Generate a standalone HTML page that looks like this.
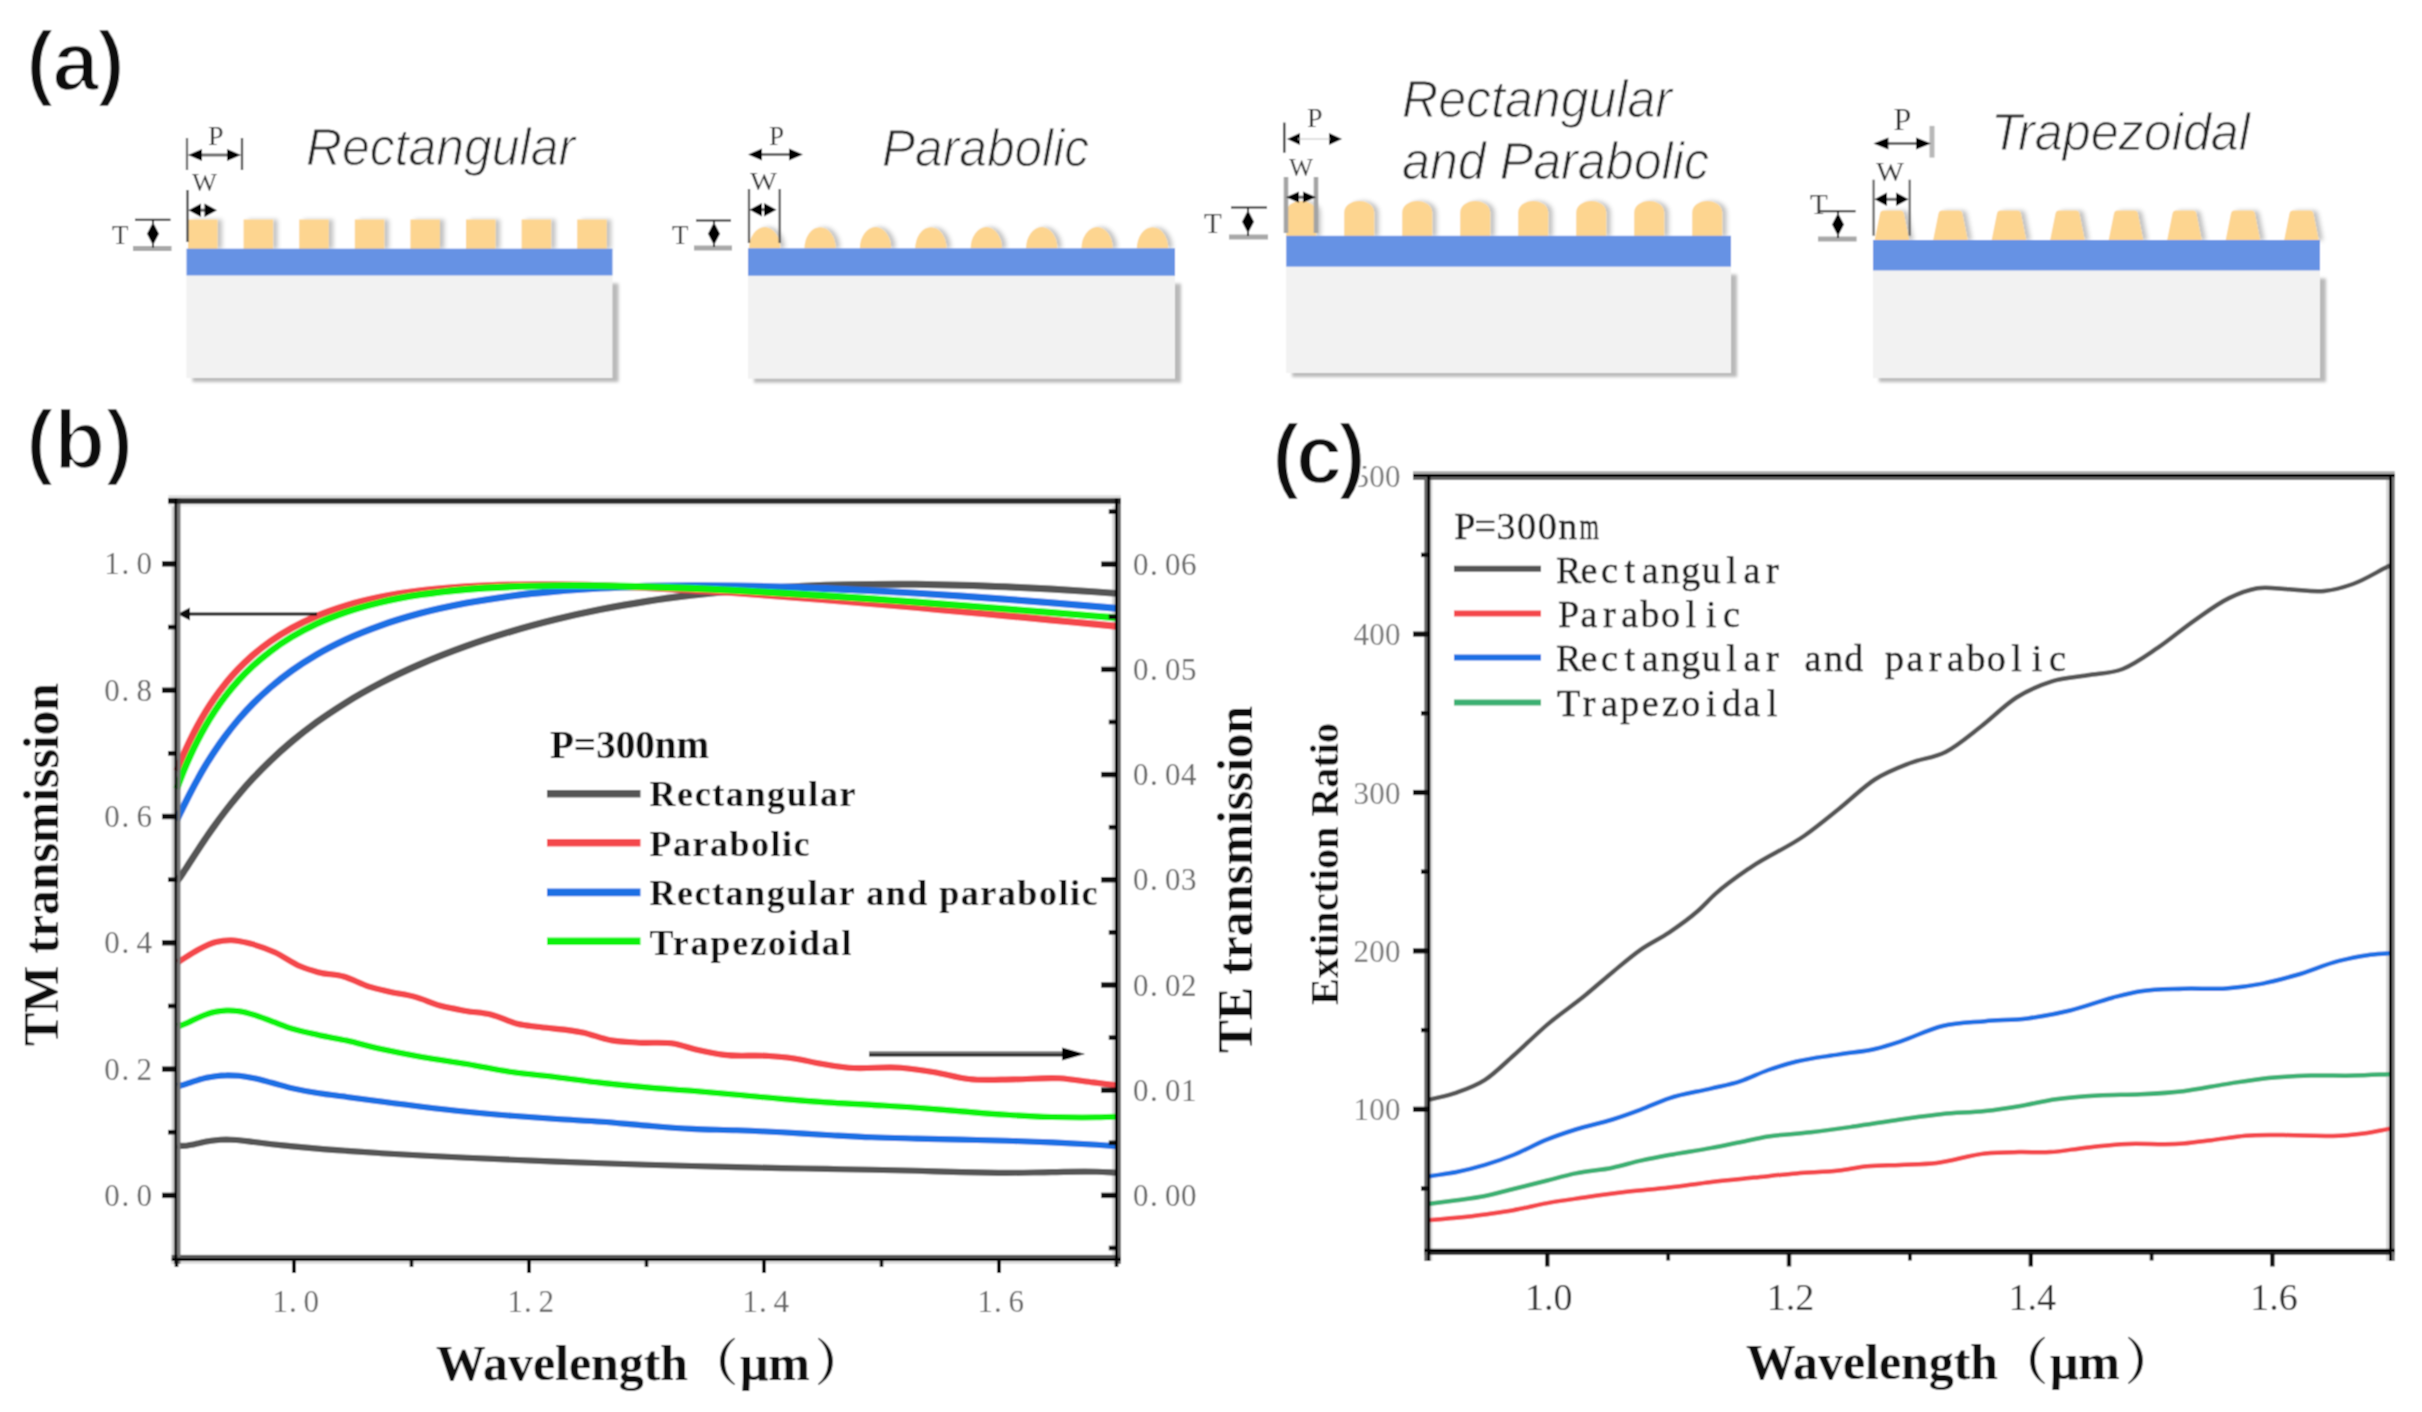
<!DOCTYPE html>
<html lang="en"><head><meta charset="utf-8"><title>Figure</title>
<style>
html,body{margin:0;padding:0;background:#fff;}
body{width:2422px;height:1412px;overflow:hidden;}
svg{display:block;}
.lab{font-family:"Liberation Sans","DejaVu Sans",sans-serif;font-weight:bold;font-size:84px;fill:#0a0a0a;stroke:#fff;stroke-width:2.4px;}
.ttl{font-family:"Liberation Sans","DejaVu Sans",sans-serif;font-style:italic;font-size:51px;fill:#262626;stroke:#fff;stroke-width:0.9px;}
.ann{font-family:"Liberation Serif","DejaVu Serif",serif;fill:#333;}
.tk{font-family:"Liberation Serif","DejaVu Serif",serif;font-size:31px;fill:#666;}
.tkc{font-family:"Liberation Serif","DejaVu Serif",serif;font-size:31px;fill:#777;}
.tkx{font-family:"Liberation Serif","DejaVu Serif",serif;font-size:38px;fill:#333;}
.axb{font-family:"Liberation Serif","Noto Serif CJK SC",serif;font-weight:bold;fill:#111;}
.lgb{font-family:"Liberation Serif","DejaVu Serif",serif;font-weight:bold;font-size:36px;fill:#111;}
.lgc{font-family:"Liberation Serif","DejaVu Serif",serif;font-size:38px;fill:#1c1c1c;stroke:#1c1c1c;stroke-width:0.45px;}
</style></head><body>
<svg width="2422" height="1412" viewBox="0 0 2422 1412">
<defs>
<filter id="sh" x="-20%" y="-20%" width="150%" height="150%"><feDropShadow dx="4.5" dy="0" stdDeviation="2.3" flood-color="#000" flood-opacity="0.24"/></filter>
<filter id="soft" x="-5%" y="-10%" width="110%" height="120%"><feGaussianBlur stdDeviation="1.6"/></filter>
</defs>
<filter id="gb" x="0" y="0" width="2422" height="1412" filterUnits="userSpaceOnUse"><feConvolveMatrix order="3" kernelMatrix="0.0571 0.1248 0.0571 0.1248 0.2725 0.1248 0.0571 0.1248 0.0571" edgeMode="duplicate" preserveAlpha="true"/></filter>
<rect width="2422" height="1412" fill="#fff"/>
<g filter="url(#gb)">
<rect width="2422" height="1412" fill="#fff"/>

<g filter="url(#soft)">
<rect x="192.5" y="283.4" width="426.0" height="98.6" fill="#b9b9b9"/>
</g>
<rect x="186.5" y="274.9" width="426.0" height="103.1" fill="#f2f2f2"/>
<g fill="#fdd590" filter="url(#sh)">
<rect x="188.0" y="219.5" width="29.5" height="29.5"/>
<rect x="243.6" y="219.5" width="29.5" height="29.5"/>
<rect x="299.2" y="219.5" width="29.5" height="29.5"/>
<rect x="354.8" y="219.5" width="29.5" height="29.5"/>
<rect x="410.4" y="219.5" width="29.5" height="29.5"/>
<rect x="466.0" y="219.5" width="29.5" height="29.5"/>
<rect x="521.6" y="219.5" width="29.5" height="29.5"/>
<rect x="577.2" y="219.5" width="29.5" height="29.5"/>
</g>
<rect x="186.5" y="248.7" width="426.0" height="26.7" fill="#6692e4"/>
<g filter="url(#soft)">
<rect x="754.0" y="283.7" width="427.0" height="99.0" fill="#b9b9b9"/>
</g>
<rect x="748.0" y="275.2" width="427.0" height="103.5" fill="#f2f2f2"/>
<g fill="#fdd590" filter="url(#sh)">
<path d="M749.0 248.6A15.7 21.5 0 0 1 780.4 248.6Z"/>
<path d="M804.4 248.6A15.7 21.5 0 0 1 835.8 248.6Z"/>
<path d="M859.8 248.6A15.7 21.5 0 0 1 891.2 248.6Z"/>
<path d="M915.2 248.6A15.7 21.5 0 0 1 946.6 248.6Z"/>
<path d="M970.6 248.6A15.7 21.5 0 0 1 1002.0 248.6Z"/>
<path d="M1026.0 248.6A15.7 21.5 0 0 1 1057.4 248.6Z"/>
<path d="M1081.4 248.6A15.7 21.5 0 0 1 1112.8 248.6Z"/>
<path d="M1136.8 248.6A15.7 21.5 0 0 1 1168.2 248.6Z"/>
</g>
<rect x="748.0" y="248.3" width="427.0" height="27.4" fill="#6692e4"/>
<g filter="url(#soft)">
<rect x="1292.2" y="274.6" width="444.8" height="102.4" fill="#b9b9b9"/>
</g>
<rect x="1286.2" y="266.1" width="444.8" height="106.9" fill="#f2f2f2"/>
<g fill="#fdd590" filter="url(#sh)">
<path d="M1286.2 236.4V212.5A15 11.5 0 0 1 1316.2 212.5V236.4Z"/>
<path d="M1344.2 236.4V212.5A15 11.5 0 0 1 1374.2 212.5V236.4Z"/>
<path d="M1402.2 236.4V212.5A15 11.5 0 0 1 1432.2 212.5V236.4Z"/>
<path d="M1460.2 236.4V212.5A15 11.5 0 0 1 1490.2 212.5V236.4Z"/>
<path d="M1518.2 236.4V212.5A15 11.5 0 0 1 1548.2 212.5V236.4Z"/>
<path d="M1576.2 236.4V212.5A15 11.5 0 0 1 1606.2 212.5V236.4Z"/>
<path d="M1634.2 236.4V212.5A15 11.5 0 0 1 1664.2 212.5V236.4Z"/>
<path d="M1692.2 236.4V212.5A15 11.5 0 0 1 1722.2 212.5V236.4Z"/>
</g>
<rect x="1286.2" y="235.8" width="444.8" height="30.8" fill="#6692e4"/>
<g filter="url(#soft)">
<rect x="1879.0" y="278.4" width="447.0" height="103.7" fill="#b9b9b9"/>
</g>
<rect x="1873.0" y="269.9" width="447.0" height="108.2" fill="#f2f2f2"/>
<g fill="#fdd590" filter="url(#sh)">
<path d="M1874.6 240.4L1880.1 213Q1880.6 210.5 1883.1 210.5H1900.8Q1903.3 210.5 1903.8 213L1909.3 240.4Z"/>
<path d="M1933.1 240.4L1938.6 213Q1939.1 210.5 1941.6 210.5H1959.3Q1961.8 210.5 1962.3 213L1967.8 240.4Z"/>
<path d="M1991.6 240.4L1997.1 213Q1997.6 210.5 2000.1 210.5H2017.8Q2020.3 210.5 2020.8 213L2026.3 240.4Z"/>
<path d="M2050.1 240.4L2055.6 213Q2056.1 210.5 2058.6 210.5H2076.3Q2078.8 210.5 2079.3 213L2084.8 240.4Z"/>
<path d="M2108.6 240.4L2114.1 213Q2114.6 210.5 2117.1 210.5H2134.8Q2137.3 210.5 2137.8 213L2143.3 240.4Z"/>
<path d="M2167.1 240.4L2172.6 213Q2173.1 210.5 2175.6 210.5H2193.3Q2195.8 210.5 2196.3 213L2201.8 240.4Z"/>
<path d="M2225.6 240.4L2231.1 213Q2231.6 210.5 2234.1 210.5H2251.8Q2254.3 210.5 2254.8 213L2260.3 240.4Z"/>
<path d="M2284.1 240.4L2289.6 213Q2290.1 210.5 2292.6 210.5H2310.3Q2312.8 210.5 2313.3 213L2318.8 240.4Z"/>
</g>
<rect x="1873.0" y="240.0" width="447.0" height="30.4" fill="#6692e4"/>
<text class="ttl" x="306" y="165" textLength="269" lengthAdjust="spacingAndGlyphs">Rectangular</text>
<text class="ttl" x="882" y="165.5" textLength="207" lengthAdjust="spacingAndGlyphs">Parabolic</text>
<text class="ttl" x="1402" y="116.5" textLength="270" lengthAdjust="spacingAndGlyphs">Rectangular</text>
<text class="ttl" x="1402" y="179" textLength="307" lengthAdjust="spacingAndGlyphs">and Parabolic</text>
<text class="ttl" x="1991" y="149.5" textLength="259" lengthAdjust="spacingAndGlyphs">Trapezoidal</text>
<text class="lab" x="26" y="90" textLength="99" lengthAdjust="spacing">(a)</text>
<text class="lab" x="26" y="468.5">(b)</text>
<text class="ann" x="208" y="144.5" font-size="28">P</text>
<line x1="187.0" y1="138.0" x2="187.0" y2="170.0" stroke="#666" stroke-width="2.3"/>
<line x1="242.0" y1="138.0" x2="242.0" y2="170.0" stroke="#444" stroke-width="2.3"/>
<line x1="192.0" y1="155.0" x2="237.0" y2="155.0" stroke="#6a6a6a" stroke-width="3.0"/>
<path d="M188.0 155.0L202.0 149.0L202.0 161.0Z" fill="#000"/>
<path d="M241.0 155.0L227.0 149.0L227.0 161.0Z" fill="#000"/>
<text class="ann" x="192" y="191" font-size="26" textLength="25" lengthAdjust="spacingAndGlyphs">W</text>
<line x1="187.5" y1="190.0" x2="187.5" y2="242.0" stroke="#444" stroke-width="2.3"/>
<line x1="192.5" y1="210.2" x2="213.0" y2="210.2" stroke="#6a6a6a" stroke-width="3.0"/>
<path d="M188.5 210.2L201.0 203.4L201.0 217.0Z" fill="#000"/>
<path d="M217.0 210.2L204.5 203.4L204.5 217.0Z" fill="#000"/>
<text class="ann" x="112" y="243.5" font-size="27">T</text>
<line x1="135.0" y1="219.8" x2="170.5" y2="219.8" stroke="#222" stroke-width="2"/>
<line x1="133.0" y1="248.5" x2="171.5" y2="248.5" stroke="#a8a8a8" stroke-width="5"/>
<line x1="153.0" y1="219.8" x2="153.0" y2="247.5" stroke="#111" stroke-width="2"/>
<path d="M153.0 222.2L159.0 233.7L153.0 245.2L147.0 233.7Z" fill="#000"/>
<text class="ann" x="769" y="144.5" font-size="27">P</text>
<line x1="752.0" y1="154.6" x2="799.0" y2="154.6" stroke="#6a6a6a" stroke-width="3.0"/>
<path d="M748.0 154.6L762.0 148.6L762.0 160.6Z" fill="#000"/>
<path d="M803.0 154.6L789.0 148.6L789.0 160.6Z" fill="#000"/>
<text class="ann" x="750" y="190" font-size="26" textLength="27" lengthAdjust="spacingAndGlyphs">W</text>
<line x1="749.0" y1="189.0" x2="749.0" y2="243.0" stroke="#555" stroke-width="2.3"/>
<line x1="779.7" y1="189.0" x2="779.7" y2="243.0" stroke="#555" stroke-width="2.3"/>
<line x1="753.5" y1="209.7" x2="772.5" y2="209.7" stroke="#6a6a6a" stroke-width="3.0"/>
<path d="M749.5 209.7L762.0 202.9L762.0 216.5Z" fill="#000"/>
<path d="M776.5 209.7L764.0 202.9L764.0 216.5Z" fill="#000"/>
<text class="ann" x="672" y="243.8" font-size="27">T</text>
<line x1="696.0" y1="220.4" x2="731.0" y2="220.4" stroke="#222" stroke-width="2"/>
<line x1="694.0" y1="248.0" x2="732.0" y2="248.0" stroke="#a8a8a8" stroke-width="5"/>
<line x1="714.0" y1="220.4" x2="714.0" y2="247.0" stroke="#111" stroke-width="2"/>
<path d="M714.0 222.2L720.0 233.7L714.0 245.2L708.0 233.7Z" fill="#000"/>
<text class="ann" x="1307" y="127.4" font-size="28">P</text>
<line x1="1284.3" y1="122.6" x2="1284.3" y2="152.7" stroke="#333" stroke-width="2.3"/>
<path d="M1287.0 139.0L1300.0 133.0L1300.0 145.0Z" fill="#000"/>
<path d="M1342.0 139.0L1329.0 133.0L1329.0 145.0Z" fill="#000"/>
<line x1="1298" y1="139" x2="1330" y2="139" stroke="#ccc" stroke-width="1.2"/>
<text class="ann" x="1289" y="175.6" font-size="26" textLength="24" lengthAdjust="spacingAndGlyphs">W</text>
<line x1="1286.0" y1="177.0" x2="1286.0" y2="233.0" stroke="#a4a4a4" stroke-width="4.6"/>
<line x1="1316.0" y1="177.0" x2="1316.0" y2="233.0" stroke="#a4a4a4" stroke-width="4.6"/>
<line x1="1290.0" y1="197.2" x2="1312.0" y2="197.2" stroke="#6a6a6a" stroke-width="3.0"/>
<path d="M1286.0 197.2L1299.0 191.6L1299.0 202.8Z" fill="#000"/>
<path d="M1316.0 197.2L1303.0 191.6L1303.0 202.8Z" fill="#000"/>
<text class="ann" x="1204" y="233.4" font-size="29" fill="#555">T</text>
<line x1="1231.0" y1="207.4" x2="1267.0" y2="207.4" stroke="#222" stroke-width="2"/>
<line x1="1229.0" y1="237.0" x2="1268.0" y2="237.0" stroke="#a8a8a8" stroke-width="5"/>
<line x1="1248.0" y1="207.4" x2="1248.0" y2="236.0" stroke="#111" stroke-width="2"/>
<path d="M1248.0 210.2L1254.0 221.7L1248.0 233.2L1242.0 221.7Z" fill="#000"/>
<text class="ann" x="1893.5" y="130.3" font-size="32">P</text>
<line x1="1932.0" y1="125.9" x2="1932.0" y2="157.6" stroke="#b8b8b8" stroke-width="5.0"/>
<line x1="1877.4" y1="143.5" x2="1927.0" y2="143.5" stroke="#6a6a6a" stroke-width="3.0"/>
<path d="M1873.4 143.5L1888.4 137.5L1888.4 149.5Z" fill="#000"/>
<path d="M1931.0 143.5L1916.0 137.5L1916.0 149.5Z" fill="#000"/>
<text class="ann" x="1876" y="180.6" font-size="28" textLength="28" lengthAdjust="spacingAndGlyphs">W</text>
<line x1="1873.6" y1="179.7" x2="1873.6" y2="235.7" stroke="#666" stroke-width="2.3"/>
<line x1="1909.7" y1="179.7" x2="1909.7" y2="235.7" stroke="#666" stroke-width="2.3"/>
<line x1="1878.5" y1="199.3" x2="1904.5" y2="199.3" stroke="#6a6a6a" stroke-width="3.0"/>
<path d="M1874.5 199.3L1887.0 192.5L1887.0 206.1Z" fill="#000"/>
<path d="M1908.5 199.3L1896.0 192.5L1896.0 206.1Z" fill="#000"/>
<text class="ann" x="1810" y="214" font-size="29">T</text>
<line x1="1820.0" y1="211.2" x2="1855.6" y2="211.2" stroke="#222" stroke-width="2"/>
<line x1="1818.0" y1="239.0" x2="1856.6" y2="239.0" stroke="#a8a8a8" stroke-width="5"/>
<line x1="1838.0" y1="211.2" x2="1838.0" y2="238.0" stroke="#111" stroke-width="2"/>
<path d="M1838.0 213.1L1844.0 224.6L1838.0 236.1L1832.0 224.6Z" fill="#000"/>
<rect x="171.6" y="498.3" width="2.8" height="765.7" fill="#cfcfcf" stroke="none"/>
<rect x="1112.1" y="498.3" width="2.8" height="765.7" fill="#d8d8d8" stroke="none"/>
<g fill="none" stroke-width="6.9" stroke-linecap="butt" stroke-linejoin="round">
<path d="M176.8 881.8C178.1 879.9 179.5 878.1 180.8 876.2C182.4 873.9 183.9 871.5 185.5 869.1C187.4 866.2 189.2 863.3 191.1 860.5C193.3 857.1 195.5 853.7 197.7 850.3C200.2 846.4 202.8 842.5 205.4 838.7C208.5 834.2 211.5 829.8 214.6 825.6C218.2 820.5 221.8 815.7 225.4 811.0C229.6 805.5 233.9 800.2 238.1 795.2C243.1 789.2 248.1 783.6 253.1 778.2C259.1 771.8 265.0 765.9 270.9 760.2C277.9 753.5 284.8 747.4 291.8 741.5C300.1 734.6 308.3 728.3 316.5 722.3C326.2 715.2 336.0 708.9 345.7 702.8C357.1 695.7 368.6 689.3 380.1 683.3C393.6 676.2 407.1 669.9 420.7 664.0C435.7 657.5 450.7 651.7 465.7 646.3C480.7 640.9 495.7 636.1 510.7 631.6C525.7 627.1 540.7 623.1 555.7 619.4C570.7 615.7 585.7 612.4 600.7 609.4C615.7 606.5 630.7 603.8 645.7 601.5C660.7 599.1 675.7 597.1 690.7 595.3C705.7 593.5 720.7 592.0 735.7 590.7C750.7 589.3 765.7 588.3 780.7 587.4C795.7 586.5 810.7 585.8 825.7 585.3C840.7 584.8 855.7 584.5 870.7 584.4C885.7 584.2 900.7 584.2 915.7 584.3C930.7 584.5 945.7 584.8 960.7 585.2C975.7 585.6 990.7 586.1 1005.7 586.8C1020.7 587.4 1035.7 588.2 1050.7 589.0C1065.7 589.9 1080.7 590.9 1095.7 591.9C1102.4 592.4 1109.2 592.9 1116.0 593.4" stroke="#555555"/>
<path d="M176.8 770.9C178.1 767.6 179.5 764.2 180.8 761.0C182.4 757.3 183.9 753.6 185.5 750.1C187.4 746.0 189.2 742.1 191.1 738.3C193.3 733.8 195.5 729.6 197.7 725.5C200.2 720.7 202.8 716.3 205.4 712.0C208.5 707.0 211.5 702.4 214.6 698.0C218.2 692.8 221.8 688.1 225.4 683.6C229.6 678.3 233.9 673.6 238.1 669.1C243.1 663.9 248.1 659.2 253.1 654.8C259.1 649.7 265.0 645.2 270.9 641.0C277.9 636.1 284.8 631.9 291.8 628.0C300.1 623.4 308.3 619.6 316.5 616.1C326.2 612.0 336.0 608.7 345.7 605.7C357.1 602.2 368.6 599.6 380.1 597.2C393.6 594.4 407.1 592.4 420.7 590.7C435.7 588.8 450.7 587.7 465.7 586.7C480.7 585.8 495.7 585.3 510.7 585.0C525.7 584.7 540.7 584.7 555.7 584.8C570.7 584.9 585.7 585.3 600.7 585.8C615.7 586.2 630.7 586.9 645.7 587.6C660.7 588.3 675.7 589.1 690.7 590.0C705.7 590.9 720.7 591.9 735.7 592.9C750.7 593.9 765.7 595.0 780.7 596.2C795.7 597.3 810.7 598.5 825.7 599.7C840.7 600.9 855.7 602.2 870.7 603.5C885.7 604.8 900.7 606.1 915.7 607.4C930.7 608.8 945.7 610.1 960.7 611.5C975.7 612.9 990.7 614.3 1005.7 615.7C1020.7 617.1 1035.7 618.5 1050.7 620.0C1065.7 621.4 1080.7 622.9 1095.7 624.3C1102.4 625.0 1109.2 625.6 1116.0 626.3" stroke="#f4464b"/>
<path d="M176.8 820.3C178.1 817.5 179.5 814.7 180.8 811.9C182.4 808.7 183.9 805.4 185.5 802.3C187.4 798.5 189.2 794.9 191.1 791.3C193.3 787.1 195.5 783.0 197.7 779.1C200.2 774.4 202.8 769.9 205.4 765.6C208.5 760.6 211.5 755.8 214.6 751.2C218.2 745.8 221.8 740.7 225.4 735.9C229.6 730.2 233.9 724.9 238.1 719.9C243.1 714.0 248.1 708.6 253.1 703.5C259.1 697.5 265.0 692.1 270.9 687.0C277.9 681.0 284.8 675.6 291.8 670.6C300.1 664.7 308.3 659.5 316.5 654.7C326.2 649.0 336.0 644.1 345.7 639.6C357.1 634.3 368.6 629.8 380.1 625.7C393.6 620.8 407.1 616.9 420.7 613.2C435.7 609.2 450.7 606.1 465.7 603.2C480.7 600.4 495.7 598.1 510.7 596.1C525.7 594.1 540.7 592.6 555.7 591.3C570.7 589.9 585.7 588.9 600.7 588.1C615.7 587.3 630.7 586.8 645.7 586.3C660.7 585.9 675.7 585.7 690.7 585.7C705.7 585.6 720.7 585.7 735.7 585.9C750.7 586.1 765.7 586.4 780.7 586.9C795.7 587.3 810.7 587.8 825.7 588.5C840.7 589.1 855.7 589.8 870.7 590.6C885.7 591.3 900.7 592.2 915.7 593.1C930.7 594.0 945.7 595.0 960.7 596.0C975.7 597.0 990.7 598.1 1005.7 599.3C1020.7 600.4 1035.7 601.6 1050.7 602.8C1065.7 604.0 1080.7 605.2 1095.7 606.5C1102.4 607.1 1109.2 607.7 1116.0 608.3" stroke="#1e6fe4"/>
<path d="M176.8 788.7C178.1 785.2 179.5 781.6 180.8 778.2C182.4 774.1 183.9 770.3 185.5 766.6C187.4 762.2 189.2 758.0 191.1 754.0C193.3 749.2 195.5 744.8 197.7 740.5C200.2 735.4 202.8 730.7 205.4 726.2C208.5 720.9 211.5 716.1 214.6 711.4C218.2 705.9 221.8 700.9 225.4 696.2C229.6 690.6 233.9 685.6 238.1 680.9C243.1 675.3 248.1 670.3 253.1 665.7C259.1 660.2 265.0 655.4 270.9 650.9C277.9 645.6 284.8 641.1 291.8 636.9C300.1 631.9 308.3 627.7 316.5 623.9C326.2 619.4 336.0 615.7 345.7 612.3C357.1 608.4 368.6 605.3 380.1 602.5C393.6 599.2 407.1 596.8 420.7 594.7C435.7 592.4 450.7 590.9 465.7 589.5C480.7 588.2 495.7 587.4 510.7 586.7C525.7 586.1 540.7 585.8 555.7 585.6C570.7 585.5 585.7 585.5 600.7 585.7C615.7 585.9 630.7 586.2 645.7 586.7C660.7 587.1 675.7 587.7 690.7 588.3C705.7 588.9 720.7 589.7 735.7 590.4C750.7 591.2 765.7 592.1 780.7 593.0C795.7 593.8 810.7 594.8 825.7 595.8C840.7 596.7 855.7 597.8 870.7 598.8C885.7 599.9 900.7 600.9 915.7 602.0C930.7 603.1 945.7 604.3 960.7 605.4C975.7 606.6 990.7 607.7 1005.7 608.9C1020.7 610.1 1035.7 611.3 1050.7 612.5C1065.7 613.7 1080.7 614.9 1095.7 616.1C1102.4 616.7 1109.2 617.2 1116.0 617.8" stroke="#0af20a"/>
</g>
<g fill="none" stroke-width="6.1" stroke-linecap="butt" stroke-linejoin="round">
<path d="M177.8 1145.3C179.1 1145.5 180.5 1145.8 181.8 1145.9C183.4 1146.0 184.9 1145.8 186.5 1145.7C188.4 1145.5 190.2 1145.1 192.1 1144.7C194.3 1144.3 196.5 1143.7 198.7 1143.3C201.2 1142.7 203.8 1142.1 206.4 1141.6C209.5 1141.0 212.5 1140.5 215.6 1140.2C219.2 1139.8 222.8 1139.6 226.4 1139.5C230.6 1139.5 234.9 1139.9 239.1 1140.2C244.1 1140.6 249.1 1141.4 254.1 1142.0C260.1 1142.7 266.0 1143.5 271.9 1144.2C278.9 1145.0 285.8 1145.7 292.8 1146.4C301.1 1147.2 309.3 1147.9 317.5 1148.6C327.2 1149.5 337.0 1150.2 346.7 1150.9C358.1 1151.7 369.6 1152.5 381.1 1153.2C394.6 1154.0 408.1 1154.8 421.7 1155.5C436.7 1156.3 451.7 1157.0 466.7 1157.7C481.7 1158.4 496.7 1159.1 511.7 1159.7C526.7 1160.4 541.7 1161.0 556.7 1161.6C571.7 1162.2 586.7 1162.7 601.7 1163.2C616.7 1163.8 631.7 1164.2 646.7 1164.7C661.7 1165.2 676.7 1165.6 691.7 1166.0C706.7 1166.4 721.7 1166.8 736.7 1167.1C751.7 1167.5 766.7 1167.8 781.7 1168.1C796.7 1168.4 811.7 1168.6 826.7 1168.9C841.7 1169.2 856.7 1169.4 871.7 1169.8C886.7 1170.1 901.7 1170.4 916.7 1170.8C931.7 1171.2 946.7 1171.8 961.7 1172.1C976.7 1172.5 991.7 1172.9 1006.7 1172.9C1021.7 1172.9 1036.7 1172.3 1051.7 1172.1C1066.7 1171.9 1081.7 1171.3 1096.7 1171.8C1103.1 1171.9 1109.6 1172.3 1116.0 1172.6" stroke="#555555"/>
<path d="M177.8 1086.1C179.1 1085.8 180.5 1085.5 181.8 1085.2C183.4 1084.8 184.9 1084.3 186.5 1083.8C188.4 1083.2 190.2 1082.5 192.1 1081.9C194.3 1081.2 196.5 1080.5 198.7 1079.8C201.2 1079.1 203.8 1078.4 206.4 1077.8C209.5 1077.1 212.5 1076.6 215.6 1076.2C219.2 1075.7 222.8 1075.4 226.4 1075.4C230.6 1075.3 234.9 1075.5 239.1 1075.8C244.1 1076.3 249.1 1077.2 254.1 1078.2C260.1 1079.4 266.0 1081.2 271.9 1082.8C278.9 1084.6 285.8 1086.8 292.8 1088.4C301.1 1090.3 309.3 1091.8 317.5 1093.1C327.2 1094.7 337.0 1095.6 346.7 1096.9C358.1 1098.4 369.6 1100.1 381.1 1101.6C394.6 1103.4 408.1 1105.2 421.7 1106.8C436.7 1108.6 451.7 1110.3 466.7 1111.8C481.7 1113.3 496.7 1114.6 511.7 1115.8C526.7 1117.0 541.7 1118.0 556.7 1119.0C571.7 1120.0 586.7 1120.6 601.7 1121.7C616.7 1122.8 631.7 1124.4 646.7 1125.6C661.7 1126.8 676.7 1128.1 691.7 1128.9C706.7 1129.7 721.7 1129.7 736.7 1130.3C751.7 1130.8 766.7 1131.5 781.7 1132.3C796.7 1133.1 811.7 1134.2 826.7 1135.0C841.7 1135.8 856.7 1136.7 871.7 1137.3C886.7 1137.9 901.7 1138.2 916.7 1138.6C931.7 1139.0 946.7 1139.3 961.7 1139.6C976.7 1140.0 991.7 1140.3 1006.7 1140.8C1021.7 1141.2 1036.7 1141.7 1051.7 1142.4C1066.7 1143.1 1081.7 1143.9 1096.7 1144.8C1103.1 1145.2 1109.6 1145.7 1116.0 1146.1" stroke="#1e6fe4"/>
<path d="M177.8 1026.1C179.1 1025.8 180.5 1025.6 181.8 1025.1C183.4 1024.6 184.9 1023.9 186.5 1023.2C188.4 1022.4 190.2 1021.4 192.1 1020.6C194.3 1019.5 196.5 1018.4 198.7 1017.5C201.2 1016.3 203.8 1015.2 206.4 1014.4C209.5 1013.3 212.5 1012.4 215.6 1011.8C219.2 1011.1 222.8 1010.7 226.4 1010.5C230.6 1010.3 234.9 1010.6 239.1 1011.2C244.1 1011.9 249.1 1013.3 254.1 1014.8C260.1 1016.6 266.0 1019.2 271.9 1021.4C278.9 1023.9 285.8 1026.7 292.8 1028.9C301.1 1031.4 309.3 1033.0 317.5 1034.8C327.2 1037.0 337.0 1038.5 346.7 1040.6C358.1 1043.2 369.6 1046.6 381.1 1049.1C394.6 1052.1 408.1 1054.6 421.7 1057.0C436.7 1059.7 451.7 1061.5 466.7 1064.0C481.7 1066.5 496.7 1069.9 511.7 1072.1C526.7 1074.3 541.7 1075.4 556.7 1077.2C571.7 1079.0 586.7 1081.2 601.7 1082.9C616.7 1084.6 631.7 1086.1 646.7 1087.4C661.7 1088.8 676.7 1089.6 691.7 1090.8C706.7 1092.1 721.7 1093.4 736.7 1094.8C751.7 1096.1 766.7 1097.7 781.7 1098.9C796.7 1100.2 811.7 1101.4 826.7 1102.4C841.7 1103.4 856.7 1104.0 871.7 1104.9C886.7 1105.8 901.7 1106.6 916.7 1107.7C931.7 1108.8 946.7 1110.2 961.7 1111.4C976.7 1112.6 991.7 1113.9 1006.7 1114.8C1021.7 1115.8 1036.7 1116.6 1051.7 1117.0C1066.7 1117.4 1081.7 1117.6 1096.7 1117.3C1103.1 1117.2 1109.6 1116.9 1116.0 1116.8" stroke="#0af20a"/>
<path d="M177.8 962.5C184.6 958.2 191.4 953.3 198.2 949.7C204.1 946.6 210.1 943.5 216.0 942.0C221.1 940.7 226.3 940.2 231.4 940.3C237.3 940.4 243.3 941.9 249.2 943.3C257.7 945.4 266.2 948.5 274.7 952.3C283.2 956.1 291.7 962.7 300.2 966.3C306.1 968.8 312.1 970.6 318.0 972.2C326.5 974.5 335.1 974.1 343.6 976.5C352.1 978.9 360.5 984.0 369.0 986.7C375.8 988.9 382.7 990.2 389.5 991.8C398.0 993.7 406.5 994.6 415.0 996.9C423.5 999.2 432.0 1003.5 440.5 1005.8C449.0 1008.1 457.5 1009.4 466.0 1010.9C474.5 1012.4 483.0 1012.6 491.5 1014.7C500.0 1016.8 508.5 1021.6 517.0 1023.7C524.7 1025.6 532.3 1026.0 540.0 1027.1C554.2 1029.1 568.3 1029.4 582.5 1032.5C591.9 1034.5 601.4 1038.6 610.8 1040.3C620.2 1042.0 629.7 1042.1 639.1 1042.7C650.9 1043.4 662.8 1041.7 674.6 1043.8C681.7 1045.1 688.7 1047.8 695.8 1049.5C705.2 1051.7 714.7 1053.7 724.1 1054.9C738.3 1056.7 752.4 1054.9 766.6 1055.9C777.7 1056.7 788.9 1057.4 800.0 1059.4C805.6 1060.4 811.2 1062.0 816.8 1063.1C827.4 1065.2 837.9 1066.7 848.5 1067.7C865.9 1069.3 883.3 1066.3 900.7 1067.7C912.0 1068.6 923.3 1070.3 934.6 1072.2C945.9 1074.1 957.3 1077.7 968.6 1079.0C983.7 1080.8 998.9 1079.5 1014.0 1079.4C1029.1 1079.3 1044.2 1077.4 1059.3 1078.3C1070.6 1079.0 1082.0 1081.0 1093.3 1082.4C1100.5 1083.3 1107.6 1084.2 1114.8 1085.1C1115.2 1085.2 1115.6 1085.2 1116.0 1085.3" stroke="#f4464b"/>
</g>
<line x1="186" y1="614" x2="317" y2="614" stroke="#111" stroke-width="2.8"/>
<path d="M177.5 614L190 607.5V620.5Z" fill="#111"/>
<line x1="869" y1="1052.6" x2="1066" y2="1052.6" stroke="#777" stroke-width="2.8"/>
<line x1="869" y1="1055.2" x2="1066" y2="1055.2" stroke="#1a1a1a" stroke-width="2.8"/>
<path d="M1085 1054L1062 1047.6V1060.4Z" fill="#000"/>
<g stroke="#0a0a0a" fill="none">
<rect x="168.3" y="495.2" width="952.6" height="3.1" fill="#dedede" stroke="none"/>
<rect x="168.3" y="503.7" width="952.6" height="2.8" fill="#efefef" stroke="none"/>
<rect x="171.6" y="1254.9" width="949.3" height="2.8" fill="#555" stroke="none"/>
<rect x="171.6" y="1260.9" width="949.3" height="2.8" fill="#dcdcdc" stroke="none"/>
<rect x="177.3" y="498.3" width="3.2" height="765.7" fill="#777" stroke="none"/>
<rect x="1118.1" y="498.3" width="2.8" height="765.7" fill="#666" stroke="none"/>
<rect x="168.3" y="498.3" width="952.6" height="5.4" fill="#2a2a2a" stroke="none"/>
<rect x="171.6" y="1257.7" width="949.3" height="3.2" fill="#000" stroke="none"/>
<rect x="174.4" y="498.3" width="2.9" height="765.7" fill="#000" stroke="none"/>
<rect x="1114.9" y="498.3" width="3.2" height="765.7" fill="#000" stroke="none"/>
<line x1="162.0" y1="1195.4" x2="175.0" y2="1195.4" stroke-width="5.4"/>
<line x1="162.0" y1="1069.1" x2="175.0" y2="1069.1" stroke-width="5.4"/>
<line x1="162.0" y1="942.8" x2="175.0" y2="942.8" stroke-width="5.4"/>
<line x1="162.0" y1="816.5" x2="175.0" y2="816.5" stroke-width="5.4"/>
<line x1="162.0" y1="690.2" x2="175.0" y2="690.2" stroke-width="5.4"/>
<line x1="162.0" y1="563.9" x2="175.0" y2="563.9" stroke-width="5.4"/>
<line x1="168.0" y1="1132.2" x2="175.0" y2="1132.2" stroke-width="4.6"/>
<line x1="168.0" y1="1006.0" x2="175.0" y2="1006.0" stroke-width="4.6"/>
<line x1="168.0" y1="879.7" x2="175.0" y2="879.7" stroke-width="4.6"/>
<line x1="168.0" y1="753.4" x2="175.0" y2="753.4" stroke-width="4.6"/>
<line x1="168.0" y1="627.1" x2="175.0" y2="627.1" stroke-width="4.6"/>
<line x1="168.0" y1="500.8" x2="175.0" y2="500.8" stroke-width="4.6"/>
<line x1="1101.2" y1="1195.4" x2="1115.5" y2="1195.4" stroke-width="5.4"/>
<line x1="1101.2" y1="1090.2" x2="1115.5" y2="1090.2" stroke-width="5.4"/>
<line x1="1101.2" y1="985.0" x2="1115.5" y2="985.0" stroke-width="5.4"/>
<line x1="1101.2" y1="879.8" x2="1115.5" y2="879.8" stroke-width="5.4"/>
<line x1="1101.2" y1="774.6" x2="1115.5" y2="774.6" stroke-width="5.4"/>
<line x1="1101.2" y1="669.4" x2="1115.5" y2="669.4" stroke-width="5.4"/>
<line x1="1101.2" y1="564.2" x2="1115.5" y2="564.2" stroke-width="5.4"/>
<line x1="1108.8" y1="1248.0" x2="1115.5" y2="1248.0" stroke-width="4.6"/>
<line x1="1108.8" y1="1142.8" x2="1115.5" y2="1142.8" stroke-width="4.6"/>
<line x1="1108.8" y1="1037.6" x2="1115.5" y2="1037.6" stroke-width="4.6"/>
<line x1="1108.8" y1="932.4" x2="1115.5" y2="932.4" stroke-width="4.6"/>
<line x1="1108.8" y1="827.2" x2="1115.5" y2="827.2" stroke-width="4.6"/>
<line x1="1108.8" y1="722.0" x2="1115.5" y2="722.0" stroke-width="4.6"/>
<line x1="1108.8" y1="616.8" x2="1115.5" y2="616.8" stroke-width="4.6"/>
<line x1="1108.8" y1="511.6" x2="1115.5" y2="511.6" stroke-width="4.6"/>
<line x1="294.0" y1="1260.0" x2="294.0" y2="1273.0" stroke-width="4"/>
<line x1="529.0" y1="1260.0" x2="529.0" y2="1273.0" stroke-width="4"/>
<line x1="764.0" y1="1260.0" x2="764.0" y2="1273.0" stroke-width="4"/>
<line x1="999.0" y1="1260.0" x2="999.0" y2="1273.0" stroke-width="4"/>
<line x1="176.5" y1="1260.0" x2="176.5" y2="1267.0" stroke-width="3.6"/>
<line x1="411.5" y1="1260.0" x2="411.5" y2="1267.0" stroke-width="3.6"/>
<line x1="646.5" y1="1260.0" x2="646.5" y2="1267.0" stroke-width="3.6"/>
<line x1="881.5" y1="1260.0" x2="881.5" y2="1267.0" stroke-width="3.6"/>
<line x1="1116.5" y1="1260.0" x2="1116.5" y2="1267.0" stroke-width="3.6"/>
</g>
<text class="tk" x="104.3 121.4 136.5" y="1205.9">0.0</text>
<text class="tk" x="104.3 121.4 136.5" y="1079.6">0.2</text>
<text class="tk" x="104.3 121.4 136.5" y="953.3">0.4</text>
<text class="tk" x="104.3 121.4 136.5" y="827.0">0.6</text>
<text class="tk" x="104.3 121.4 136.5" y="700.7">0.8</text>
<text class="tk" x="104.3 121.4 136.5" y="574.4">1.0</text>
<text class="tk" x="1133.0 1149.9 1165.0 1181.0" y="1205.9">0.00</text>
<text class="tk" x="1133.0 1149.9 1165.0 1181.0" y="1100.7">0.01</text>
<text class="tk" x="1133.0 1149.9 1165.0 1181.0" y="995.5">0.02</text>
<text class="tk" x="1133.0 1149.9 1165.0 1181.0" y="890.3">0.03</text>
<text class="tk" x="1133.0 1149.9 1165.0 1181.0" y="785.1">0.04</text>
<text class="tk" x="1133.0 1149.9 1165.0 1181.0" y="679.9">0.05</text>
<text class="tk" x="1133.0 1149.9 1165.0 1181.0" y="574.7">0.06</text>
<text class="tk" x="272.5 289.1 303.5" y="1311.5">1.0</text>
<text class="tk" x="507.5 524.1 538.5" y="1311.5">1.2</text>
<text class="tk" x="742.5 759.1 773.5" y="1311.5">1.4</text>
<text class="tk" x="977.5 994.1 1008.5" y="1311.5">1.6</text>
<text class="axb" font-size="50" transform="translate(57.5,1046) rotate(-90)" textLength="363" lengthAdjust="spacingAndGlyphs">TM transmission</text>
<text class="axb" font-size="50" transform="translate(1251.5,1053) rotate(-90)" textLength="347" lengthAdjust="spacingAndGlyphs">TE transmission</text>
<text class="axb" font-size="50" x="436" y="1379.5"><tspan textLength="252" lengthAdjust="spacingAndGlyphs">Wavelength</tspan><tspan>（</tspan><tspan dx="2">μm</tspan><tspan dx="5">）</tspan></text>
<text class="axb" font-size="40" x="550" y="758" textLength="159" lengthAdjust="spacingAndGlyphs">P=300nm</text>
<line x1="547" y1="793.8" x2="640.5" y2="793.8" stroke="#555555" stroke-width="7.6"/>
<text class="lgb" x="649.5" y="805.7" textLength="206" lengthAdjust="spacing">Rectangular</text>
<line x1="547" y1="842.7" x2="640.5" y2="842.7" stroke="#f4464b" stroke-width="7.6"/>
<text class="lgb" x="649.5" y="855.5" textLength="160" lengthAdjust="spacing">Parabolic</text>
<line x1="547" y1="892.4" x2="640.5" y2="892.4" stroke="#1e6fe4" stroke-width="7.6"/>
<text class="lgb" x="649.5" y="904.8" textLength="448" lengthAdjust="spacing">Rectangular and parabolic</text>
<line x1="547" y1="941.3" x2="640.5" y2="941.3" stroke="#0af20a" stroke-width="7.6"/>
<text class="lgb" x="649.5" y="954.5" textLength="202" lengthAdjust="spacing">Trapezoidal</text>
<rect x="1430.4" y="474.1" width="2.4" height="786.9" fill="#e6e6e6" stroke="none"/>
<rect x="2386.1" y="474.1" width="2.9" height="786.9" fill="#d8d8d8" stroke="none"/>
<g fill="none" stroke-width="4.5" stroke-linecap="butt" stroke-linejoin="round">
<path d="M1429.7 1099.7C1438.7 1097.3 1447.7 1095.8 1456.7 1092.6C1466.1 1089.3 1475.6 1086.0 1485.0 1079.9C1494.4 1073.8 1503.9 1064.1 1513.3 1055.8C1524.6 1045.8 1536.0 1034.2 1547.3 1024.6C1559.5 1014.2 1571.8 1006.2 1584.0 996.3C1593.5 988.6 1603.0 980.0 1612.5 972.2C1621.9 964.4 1631.4 956.2 1640.8 949.6C1650.2 943.0 1659.6 938.9 1669.0 932.6C1678.5 926.2 1688.0 919.7 1697.5 911.3C1703.5 906.0 1709.4 899.3 1715.4 893.9C1727.2 883.3 1739.0 875.4 1750.8 867.3C1768.5 855.1 1786.3 848.4 1804.0 836.0C1815.8 827.7 1827.6 817.9 1839.4 808.5C1851.2 799.1 1863.0 787.1 1874.8 779.5C1886.6 771.9 1898.4 767.6 1910.2 763.0C1922.0 758.4 1933.8 758.1 1945.6 752.0C1957.4 745.9 1969.2 735.6 1981.0 726.5C1992.8 717.4 2004.7 705.0 2016.5 697.5C2028.3 690.0 2040.1 685.1 2051.9 681.4C2063.7 677.7 2075.5 677.4 2087.3 675.3C2099.1 673.2 2110.9 673.6 2122.7 669.0C2134.5 664.4 2146.2 655.6 2158.0 647.7C2169.9 639.7 2181.7 629.4 2193.6 621.1C2205.4 612.9 2217.2 603.8 2229.0 598.1C2238.4 593.5 2247.9 589.8 2257.3 588.2C2267.9 586.4 2278.6 588.9 2289.2 589.3C2301.0 589.8 2312.8 592.4 2324.6 591.0C2334.1 589.9 2343.5 587.4 2353.0 584.0C2364.8 579.8 2376.5 572.2 2388.3 566.3C2389.0 565.9 2389.8 565.6 2390.5 565.2" stroke="#555555"/>
<path d="M1429.7 1176.2C1438.7 1174.8 1447.7 1173.8 1456.7 1172.0C1466.1 1170.1 1475.6 1167.7 1485.0 1164.9C1494.4 1162.1 1503.9 1158.8 1513.3 1155.0C1524.6 1150.5 1536.0 1143.9 1547.3 1139.4C1556.7 1135.6 1566.2 1132.5 1575.6 1129.5C1587.9 1125.6 1600.2 1123.4 1612.5 1119.5C1621.9 1116.5 1631.4 1113.1 1640.8 1109.6C1650.2 1106.1 1659.6 1101.4 1669.0 1098.3C1683.2 1093.6 1697.4 1091.9 1711.6 1088.4C1721.1 1086.1 1730.5 1084.4 1740.0 1081.3C1749.4 1078.2 1758.9 1073.3 1768.3 1070.0C1777.7 1066.7 1787.2 1063.8 1796.6 1061.5C1810.7 1058.0 1824.9 1056.7 1839.0 1054.4C1851.3 1052.4 1863.7 1051.7 1876.0 1048.7C1884.0 1046.8 1892.0 1044.2 1900.0 1041.6C1914.2 1037.0 1928.3 1029.4 1942.5 1026.0C1956.7 1022.6 1970.8 1022.5 1985.0 1021.2C1999.2 1019.9 2013.3 1020.2 2027.5 1018.4C2041.7 1016.6 2055.8 1014.0 2070.0 1010.5C2084.2 1007.0 2098.3 1001.4 2112.5 997.7C2121.9 995.3 2131.4 992.7 2140.8 991.2C2155.0 988.9 2169.1 989.2 2183.3 988.7C2197.5 988.2 2211.6 989.4 2225.8 988.4C2238.1 987.5 2250.3 986.0 2262.6 983.6C2273.9 981.4 2285.3 978.3 2296.6 975.0C2310.7 970.9 2324.9 964.5 2339.0 960.9C2348.5 958.5 2357.9 956.5 2367.4 955.2C2374.5 954.2 2381.6 953.9 2388.7 953.3C2389.3 953.2 2389.9 953.2 2390.5 953.1" stroke="#1e6fe4"/>
<path d="M1429.7 1203.7C1438.7 1202.6 1447.7 1201.5 1456.7 1200.3C1466.1 1199.0 1475.6 1197.9 1485.0 1196.0C1494.4 1194.1 1503.9 1191.3 1513.3 1189.0C1524.6 1186.2 1536.0 1183.3 1547.3 1180.5C1556.7 1178.1 1566.2 1175.4 1575.6 1173.4C1587.9 1170.8 1600.2 1170.3 1612.5 1167.7C1621.9 1165.7 1631.4 1162.7 1640.8 1160.6C1650.2 1158.5 1659.6 1156.7 1669.0 1155.0C1683.2 1152.4 1697.4 1150.6 1711.6 1147.9C1721.1 1146.1 1730.5 1144.1 1740.0 1142.2C1749.4 1140.3 1758.9 1138.0 1768.3 1136.5C1782.5 1134.2 1796.6 1134.0 1810.8 1132.3C1825.0 1130.6 1839.1 1128.6 1853.3 1126.6C1868.9 1124.4 1884.4 1121.7 1900.0 1119.5C1914.2 1117.5 1928.3 1115.3 1942.5 1113.9C1956.7 1112.5 1970.8 1112.5 1985.0 1111.0C1996.3 1109.8 2007.7 1108.1 2019.0 1106.2C2031.3 1104.2 2043.5 1100.9 2055.8 1099.2C2070.0 1097.2 2084.1 1096.3 2098.3 1095.5C2112.5 1094.7 2126.6 1095.0 2140.8 1094.3C2155.0 1093.6 2169.1 1092.9 2183.3 1091.2C2197.5 1089.5 2211.6 1086.3 2225.8 1084.1C2240.0 1081.9 2254.1 1079.3 2268.3 1077.9C2282.5 1076.5 2296.6 1076.0 2310.8 1075.6C2325.0 1075.2 2339.1 1075.9 2353.3 1075.6C2365.1 1075.3 2376.9 1074.7 2388.7 1074.2C2389.3 1074.2 2389.9 1074.2 2390.5 1074.1" stroke="#3bb072"/>
<path d="M1429.7 1220.1C1438.7 1219.3 1447.7 1218.7 1456.7 1217.8C1466.1 1216.8 1475.6 1215.7 1485.0 1214.4C1494.4 1213.1 1503.9 1211.9 1513.3 1210.2C1524.6 1208.2 1536.0 1205.2 1547.3 1203.1C1559.5 1200.9 1571.8 1199.3 1584.0 1197.5C1598.2 1195.5 1612.4 1193.5 1626.6 1191.8C1640.7 1190.1 1654.9 1189.1 1669.0 1187.5C1683.2 1185.8 1697.4 1183.6 1711.6 1181.9C1725.7 1180.3 1739.9 1179.0 1754.0 1177.6C1768.2 1176.2 1782.4 1174.6 1796.6 1173.4C1810.7 1172.2 1824.9 1172.1 1839.0 1170.5C1848.5 1169.4 1857.9 1167.2 1867.4 1166.3C1878.3 1165.2 1889.1 1165.4 1900.0 1164.9C1912.3 1164.3 1924.5 1164.3 1936.8 1162.9C1952.9 1161.0 1968.9 1155.2 1985.0 1153.5C1996.3 1152.3 2007.7 1152.3 2019.0 1152.1C2029.3 1151.9 2039.7 1152.7 2050.0 1152.1C2061.3 1151.4 2072.7 1149.2 2084.0 1147.9C2096.3 1146.5 2108.7 1145.0 2121.0 1144.2C2141.8 1142.8 2162.5 1145.4 2183.3 1143.6C2192.7 1142.8 2202.2 1141.4 2211.6 1140.2C2222.9 1138.8 2234.3 1136.6 2245.6 1135.7C2257.9 1134.8 2270.1 1135.2 2282.4 1135.1C2301.3 1135.0 2320.1 1136.9 2339.0 1135.7C2348.5 1135.1 2357.9 1134.3 2367.4 1132.9C2374.5 1131.8 2381.6 1130.2 2388.7 1128.9C2389.3 1128.8 2389.9 1128.7 2390.5 1128.6" stroke="#f4464b"/>
</g>
<g stroke="#0a0a0a" fill="none">
<rect x="1413.0" y="471.2" width="981.8" height="2.9" fill="#a8a8a8" stroke="none"/>
<rect x="1413.0" y="477.0" width="981.8" height="3.0" fill="#666" stroke="none"/>
<rect x="1424.3" y="1252.0" width="970.5" height="2.8" fill="#2a2a2a" stroke="none"/>
<rect x="1424.3" y="474.1" width="2.9" height="786.9" fill="#666" stroke="none"/>
<rect x="2392.0" y="474.1" width="2.8" height="786.9" fill="#777" stroke="none"/>
<rect x="1413.0" y="474.1" width="981.8" height="2.9" fill="#000" stroke="none"/>
<rect x="1424.3" y="1248.8" width="970.5" height="3.2" fill="#000" stroke="none"/>
<rect x="1427.2" y="474.1" width="3.2" height="786.9" fill="#000" stroke="none"/>
<rect x="2389.0" y="474.1" width="3.0" height="786.9" fill="#000" stroke="none"/>
<line x1="1413.0" y1="1109.3" x2="1428.0" y2="1109.3" stroke-width="5.2"/>
<line x1="1413.0" y1="950.9" x2="1428.0" y2="950.9" stroke-width="5.2"/>
<line x1="1413.0" y1="792.5" x2="1428.0" y2="792.5" stroke-width="5.2"/>
<line x1="1413.0" y1="634.1" x2="1428.0" y2="634.1" stroke-width="5.2"/>
<line x1="1421.0" y1="1188.5" x2="1428.0" y2="1188.5" stroke-width="4.4"/>
<line x1="1421.0" y1="1030.1" x2="1428.0" y2="1030.1" stroke-width="4.4"/>
<line x1="1421.0" y1="871.7" x2="1428.0" y2="871.7" stroke-width="4.4"/>
<line x1="1421.0" y1="713.3" x2="1428.0" y2="713.3" stroke-width="4.4"/>
<line x1="1421.0" y1="554.9" x2="1428.0" y2="554.9" stroke-width="4.4"/>
<line x1="1547.3" y1="1253.0" x2="1547.3" y2="1266.5" stroke-width="4.4"/>
<line x1="1789.0" y1="1253.0" x2="1789.0" y2="1266.5" stroke-width="4.4"/>
<line x1="2030.8" y1="1253.0" x2="2030.8" y2="1266.5" stroke-width="4.4"/>
<line x1="2272.4" y1="1253.0" x2="2272.4" y2="1266.5" stroke-width="4.4"/>
<line x1="1668.2" y1="1253.0" x2="1668.2" y2="1260.5" stroke-width="3.8"/>
<line x1="1909.9" y1="1253.0" x2="1909.9" y2="1260.5" stroke-width="3.8"/>
<line x1="2151.6" y1="1253.0" x2="2151.6" y2="1260.5" stroke-width="3.8"/>
</g>
<text class="tkc" x="1353.5 1369.2 1384.9" y="1120.3">100</text>
<text class="tkc" x="1353.5 1369.2 1384.9" y="961.9">200</text>
<text class="tkc" x="1353.5 1369.2 1384.9" y="803.5">300</text>
<text class="tkc" x="1353.5 1369.2 1384.9" y="645.1">400</text>
<text class="tkc" x="1353.5 1369.2 1384.9" y="486.7">500</text>
<text class="tkx" x="1548.8" y="1309.5" text-anchor="middle">1.0</text>
<text class="tkx" x="1790.5" y="1309.5" text-anchor="middle">1.2</text>
<text class="tkx" x="2032.2" y="1309.5" text-anchor="middle">1.4</text>
<text class="tkx" x="2273.9" y="1309.5" text-anchor="middle">1.6</text>
<rect x="1268" y="418" width="89" height="86" fill="#fff"/><text class="lab" x="1272" y="483" textLength="94" lengthAdjust="spacing">(c)</text>
<text class="axb" font-size="40" transform="translate(1337.5,1005) rotate(-90)" textLength="282" lengthAdjust="spacingAndGlyphs">Extinction Ratio</text>
<text class="axb" font-size="50" x="1746" y="1379"><tspan textLength="252" lengthAdjust="spacingAndGlyphs">Wavelength</tspan><tspan>（</tspan><tspan dx="2">μm</tspan><tspan dx="5">）</tspan></text>
<text class="lgc" x="1454.2 1474.6 1496.5 1517.1 1537.7 1558.3" y="539" font-size="40">P=300n<tspan x="1579.5" textLength="19.5" lengthAdjust="spacingAndGlyphs">m</tspan></text>
<line x1="1454" y1="568.7" x2="1541" y2="568.7" stroke="#555555" stroke-width="6"/>
<text class="lgc" x="1556.0 1580.6 1601.0 1624.5 1641.7 1661.0 1681.3 1701.7 1726.3 1743.5 1766.0" y="583.0">Rectangular</text>
<line x1="1454" y1="613.5" x2="1541" y2="613.5" stroke="#f4464b" stroke-width="6"/>
<text class="lgc" x="1558.1 1580.6 1603.1 1621.3 1640.6 1661.0 1685.6 1705.9 1723.1" y="626.8">Parabolic</text>
<line x1="1454" y1="657.4" x2="1541" y2="657.4" stroke="#1e6fe4" stroke-width="6"/>
<text class="lgc" x="1556.0 1580.6 1601.0 1624.5 1641.7 1661.0 1681.3 1701.7 1726.3 1743.5 1766.0 1787.9 1804.6 1823.9 1844.2 1869.3 1884.9 1906.4 1928.8 1947.1 1966.4 1986.7 2011.3 2031.7 2048.9" y="671.3">Rectangular and parabolic</text>
<line x1="1454" y1="702.4" x2="1541" y2="702.4" stroke="#3bb072" stroke-width="6"/>
<text class="lgc" x="1557.1 1582.7 1601.0 1620.3 1641.7 1662.0 1681.3 1705.9 1722.1 1743.5 1767.0" y="716.0">Trapezoidal</text>
</g>
</svg>
</body></html>
